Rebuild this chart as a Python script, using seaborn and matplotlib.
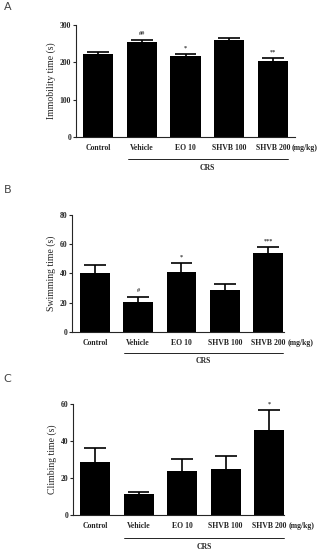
import numpy as np
import pandas as pd
import seaborn as sns
import matplotlib.pyplot as plt
from matplotlib import transforms

# ----------------------------
# Data
# ----------------------------
groups = ["Control", "Vehicle", "EO 10", "SHVB 100", "SHVB 200"]

immob_mean = [222, 255, 216, 260, 204]
immob_sem = [5, 6, 6, 6, 8]
immob_sig = ["", "##", "*", "", "**"]

swim_mean = [40, 20.5, 41, 28.5, 54]
swim_sem = [6, 3.5, 6, 4, 4]
swim_sig = ["", "#", "*", "", "***"]

climb_mean = [29, 11.5, 24, 25, 46]
climb_sem = [7.5, 1.2, 6.3, 7.2, 10.8]
climb_sig = ["", "", "", "", "*"]

sns.set_theme(style="ticks")
plt.rcParams["font.family"] = ["Liberation Serif", "DejaVu Serif"]
plt.rcParams["font.weight"] = "bold"

fig = plt.figure(figsize=(3.18, 5.51), dpi=100)

panels = [
    # letter, ylabel, means, sem, sig, yticks, rect, xlim, letter y, line offset (px)
    ("A", "Immobility time (s)", immob_mean, immob_sem, immob_sig, [0, 100, 200, 300],
     [0.239, 0.7508, 0.689, 0.2038], (-0.51, 4.51), 0.988, 22),
    ("B", "Swimming time (s)", swim_mean, swim_sem, swim_sig, [0, 20, 40, 60, 80],
     [0.2274, 0.3975, 0.666, 0.2123], (-0.52, 4.37), 0.655, 21),
    ("C", "Climbing time (s)", climb_mean, climb_sem, climb_sig, [0, 20, 40, 60],
     [0.2305, 0.0653, 0.6626, 0.2009], (-0.50, 4.34), 0.312, 23),
]

tick_fs = 5.6

for letter, ylab, means, sem, sig, yticks, rect, xlim, ly, off in panels:
    ax = fig.add_axes(rect)
    df = pd.DataFrame({"group": groups, "value": means})
    sns.barplot(data=df, x="group", y="value", color="black", saturation=1,
                width=0.69, errorbar=None, edgecolor="black", linewidth=0, ax=ax)
    x = np.arange(len(groups))
    tops = np.array(means) + np.array(sem)
    # one-sided (upper) SEM bars
    ax.vlines(x, means, tops, color="black", lw=1.2)
    ax.hlines(tops, x - 0.25, x + 0.25, color="black", lw=1.2)
    for xi, t_y, t in zip(x, tops, sig):
        if t:
            ax.annotate(t, xy=(xi, t_y), xytext=(0, 2.5), textcoords="offset points",
                        ha="center", va="bottom", fontsize=4.5, color="#333333")

    ax.set_xlim(*xlim)
    ax.set_ylim(0, yticks[-1])
    ax.set_yticks(yticks)
    ax.set_yticklabels([str(v) for v in yticks], fontsize=5.5)
    ax.set_xticks(x)
    ax.set_xticklabels(groups, fontsize=tick_fs)
    ax.tick_params(axis="x", length=0, pad=5)
    ax.tick_params(axis="y", length=2.5, width=0.8, pad=1)
    ax.set_xlabel("")
    ax.set_ylabel(ylab, fontsize=7, labelpad=3)
    for sp in ["top", "right"]:
        ax.spines[sp].set_visible(False)
    for sp in ["left", "bottom"]:
        ax.spines[sp].set_linewidth(0.8)

    # dose unit label to the right of the tick labels, same baseline
    ax.annotate("(mg/kg)", xy=(4.44, 0), xycoords=("data", "axes fraction"),
                xytext=(0, -5), textcoords="offset points", fontsize=tick_fs,
                ha="left", va="top", annotation_clip=False)

    # CRS bracket under the treated groups
    trans = transforms.blended_transform_factory(ax.transData, ax.transAxes) + \
        transforms.ScaledTranslation(0, -off / 100, fig.dpi_scale_trans)
    ax.plot([0.67, 4.35], [0, 0], color="black", lw=0.6, transform=trans, clip_on=False)
    trans2 = transforms.blended_transform_factory(ax.transData, ax.transAxes) + \
        transforms.ScaledTranslation(0, -(off + 8.5) / 100, fig.dpi_scale_trans)
    ax.text(2.5, 0, "CRS", transform=trans2, fontsize=tick_fs, ha="center", va="center")

    fig.text(0.012, ly, letter, fontsize=8, color="#444444", family="DejaVu Sans",
             weight="normal", ha="left", va="center")

fig.savefig("out.png", dpi=100)
